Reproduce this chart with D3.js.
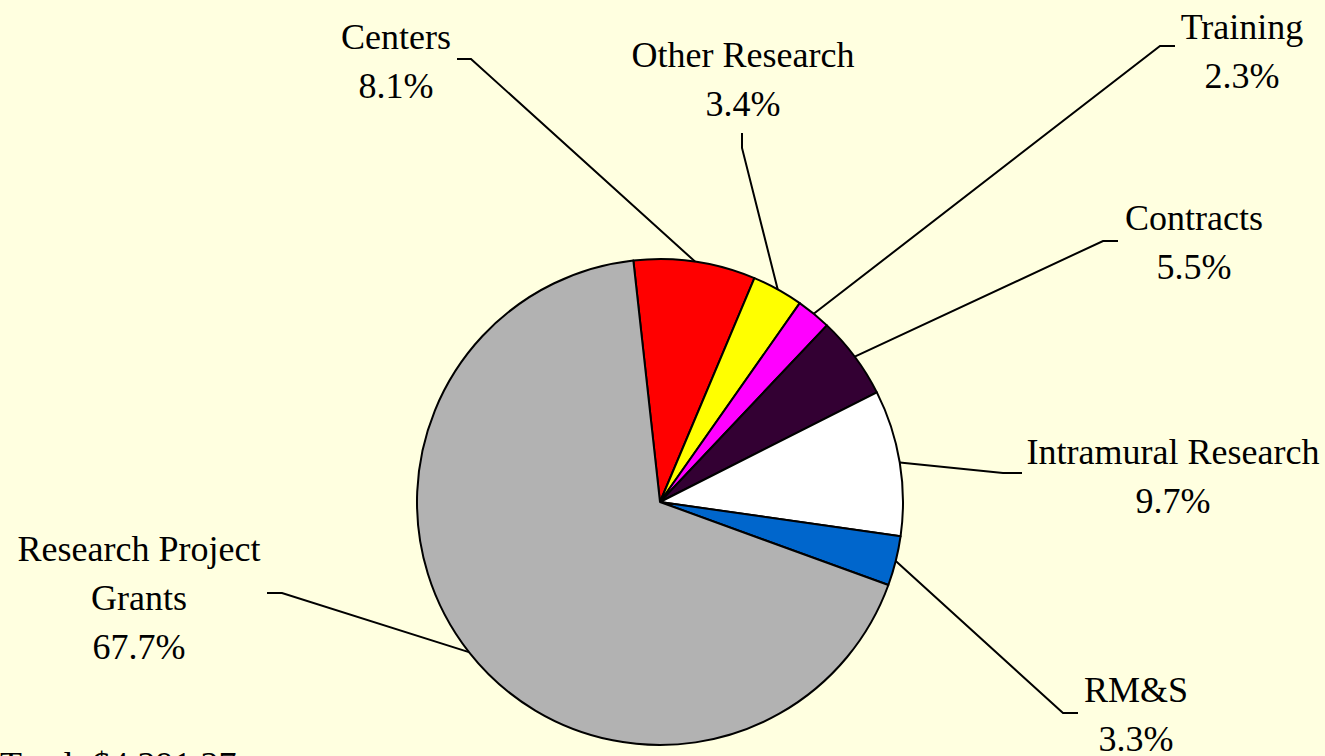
<!DOCTYPE html>
<html>
<head>
<meta charset="utf-8">
<script src="https://cdn.jsdelivr.net/npm/d3@7"></script>
<style>
  html, body { margin: 0; padding: 0; background: #ffffe0; overflow: hidden; }
  svg { display: block; }
</style>
</head>
<body>
<svg id="chart"></svg>
<script>
// ---- data ----
const categories = ["Centers", "Other Research", "Training", "Contracts", "Intramural Research", "RM&S", "Research Project Grants"];
const shares = [8.1, 3.4, 2.3, 5.5, 9.7, 3.3, 67.7];
const colors = ["#ff0000", "#ffff00", "#ff00ff", "#330033", "#ffffff", "#0066cc", "#b2b2b2"];
const labelLines = [["Centers"], ["Other Research"], ["Training"], ["Contracts"], ["Intramural Research"], ["RM&S"], ["Research Project", "Grants"]];

// ---- layout (label anchors + leader line elbows) ----
const labelPos = [
    {x: 396, y: 49,  elbow: [471, 59],   end: [457, 59]},
    {x: 743, y: 67,  elbow: [742, 148],  end: [742, 133]},
    {x: 1242, y: 39, elbow: [1160, 46],  end: [1175, 46]},
    {x: 1194, y: 230, elbow: [1103, 241], end: [1118, 241]},
    {x: 1173, y: 464, elbow: [1003, 473], end: [1022, 473]},
    {x: 1136, y: 702, elbow: [1063, 713], end: [1078, 713]},
    {x: 139, y: 561, elbow: [282, 593],  end: [267, 593]}
];

const width = 1325, height = 756;
const cx = 660, cy = 502, radius = 243;
const lineH = 49;

const svg = d3.select("#chart")
    .attr("width", width)
    .attr("height", height)
    .attr("viewBox", [0, 0, width, height])
    .style("font-family", "'Liberation Serif', 'Times New Roman', serif");

svg.append("rect").attr("width", width).attr("height", height).attr("fill", "#ffffe0");

const data = categories.map((c, i) => ({name: c, value: shares[i], color: colors[i], lines: labelLines[i], pos: labelPos[i]}));

const start = -6.3 * Math.PI / 180;
const pie = d3.pie().sort(null).value(d => d.value).startAngle(start).endAngle(start + 2 * Math.PI)(data);
const arc = d3.arc().innerRadius(0).outerRadius(radius);

const g = svg.append("g").attr("transform", `translate(${cx},${cy})`);

g.selectAll("path")
    .data(pie)
    .join("path")
    .attr("d", arc)
    .attr("fill", d => d.data.color)
    .attr("stroke", "#000")
    .attr("stroke-width", 2)
    .attr("stroke-linejoin", "round");

// leader lines: from slice edge (mid angle) to elbow, then short tail
svg.append("g")
    .selectAll("polyline")
    .data(pie)
    .join("polyline")
    .attr("fill", "none")
    .attr("stroke", "#000")
    .attr("stroke-width", 2)
    .attr("points", d => {
        const a = (d.startAngle + d.endAngle) / 2;
        const px = cx + radius * Math.sin(a), py = cy - radius * Math.cos(a);
        return [[px, py], d.data.pos.elbow, d.data.pos.end].map(p => p.join(",")).join(" ");
    });

// labels
const labels = svg.append("g")
    .selectAll("text")
    .data(pie)
    .join("text")
    .attr("text-anchor", "middle")
    .attr("font-size", 36)
    .attr("fill", "#000");

labels.each(function(d) {
    const t = d3.select(this);
    const lines = d.data.lines.concat([d.data.value.toFixed(1) + "%"]);
    lines.forEach((s, i) => {
        t.append("tspan")
            .attr("x", d.data.pos.x)
            .attr("y", d.data.pos.y + i * lineH)
            .text(s);
    });
});

// total line, cut off at the bottom edge (only glyph tops show)
svg.append("text")
    .attr("x", 0)
    .attr("y", 777)
    .attr("font-size", 36)
    .attr("fill", "#000")
    .text("Total: $4,391.37");
</script>
</body>
</html>
